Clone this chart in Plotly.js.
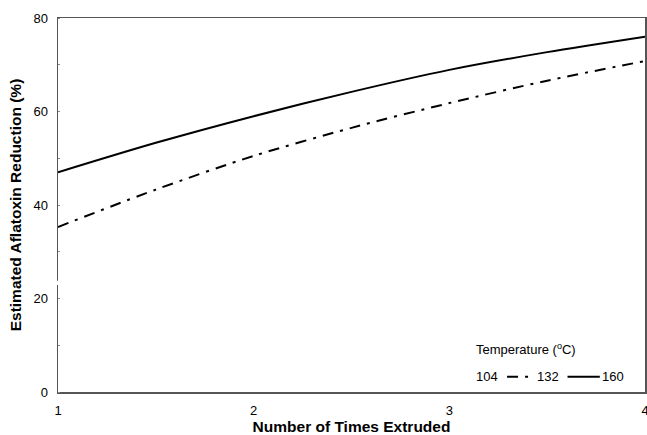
<!DOCTYPE html>
<html>
<head>
<meta charset="utf-8">
<script src="https://cdn.plot.ly/plotly-3.0.1.min.js"></script>
<style>html,body{margin:0;padding:0;background:#fff;}#chart{width:647px;height:435px;}</style>
</head>
<body>
<div id="chart"></div>
<script>
// Data
const timesExtruded = [1, 1.5, 2, 2.5, 3, 3.5, 4];
const reduction132 = [35.3, 43.3, 50.5, 56.5, 61.8, 66.6, 70.8];
const reduction160 = [47.0, 53.3, 59.0, 64.2, 68.9, 72.7, 76.0];
const seriesNames = ["104", "132", "160"];
const xTickVals = [1, 2, 3, 4];
const yTickVals = [0, 20, 40, 60, 80];

const traces = [
  {x: timesExtruded, y: reduction132, mode: 'lines', name: seriesNames[1],
   line: {color: '#000', width: 2, dash: '11px,7px,3px,7px', shape: 'spline', smoothing: 0.8}},
  {x: timesExtruded, y: reduction160, mode: 'lines', name: seriesNames[2],
   line: {color: '#000', width: 2, shape: 'spline', smoothing: 0.8}}
];

const axisFont = {family: 'Liberation Sans, Arial, sans-serif', size: 13, color: '#000'};
const titleFont = {family: 'Liberation Sans, Arial, sans-serif', size: 15.5, color: '#000', weight: 'bold'};

const layout = {
  width: 647, height: 435,
  margin: {l: 58, r: 2, t: 18, b: 43},
  paper_bgcolor: '#fff', plot_bgcolor: '#fff',
  showlegend: false,
  xaxis: {
    range: [1, 4], tickvals: xTickVals, ticktext: xTickVals.map(String),
    showgrid: false, zeroline: false, showline: true, mirror: true,
    linecolor: '#555', linewidth: 1.5, ticks: '', ticklen: 0,
    ticklabelstandoff: 6, ticklabeloverflow: 'allow',
    tickfont: axisFont, title: {text: 'Number of Times Extruded', font: titleFont, standoff: 0}
  },
  yaxis: {
    range: [0, 80], tickvals: yTickVals, ticktext: yTickVals.map(String),
    showgrid: false, zeroline: false, showline: true, mirror: true,
    linecolor: '#555', linewidth: 1.5, ticks: '', ticklen: 0,
    ticklabelstandoff: 6,
    minor: {dtick: 10, ticks: 'inside', ticklen: 2, tickcolor: '#888', tickwidth: 1, showgrid: false},
    tickfont: axisFont, title: {text: 'Estimated Aflatoxin Reduction (%)', font: titleFont, standoff: 8}
  },
  shapes: [
    // small break in the y-axis line seen in the reference
    {type: 'rect', xref: 'paper', yref: 'y', x0: -0.004, x1: 0.004, y0: 22.9, y1: 23.8,
     fillcolor: '#fff', line: {width: 0}},
    // legend line samples
    {type: 'line', xref: 'paper', yref: 'paper', x0: 0.765, x1: 0.806, y0: 0.041, y1: 0.041,
     line: {color: '#000', width: 2, dash: '11px,7px,3px,7px'}},
    {type: 'line', xref: 'paper', yref: 'paper', x0: 0.868, x1: 0.923, y0: 0.041, y1: 0.041,
     line: {color: '#000', width: 2}}
  ],
  annotations: [
    {xref: 'paper', yref: 'paper', x: 0.708, y: 0.115, xanchor: 'left', yanchor: 'middle', showarrow: false,
     text: 'Temperature (<sup>o</sup>C)', font: axisFont},
    {xref: 'paper', yref: 'paper', x: 0.708, y: 0.041, xanchor: 'left', yanchor: 'middle', showarrow: false,
     text: seriesNames[0], font: axisFont},
    {xref: 'paper', yref: 'paper', x: 0.813, y: 0.041, xanchor: 'left', yanchor: 'middle', showarrow: false,
     text: seriesNames[1], font: axisFont},
    {xref: 'paper', yref: 'paper', x: 0.924, y: 0.041, xanchor: 'left', yanchor: 'middle', showarrow: false,
     text: seriesNames[2], font: axisFont}
  ]
};

Plotly.newPlot('chart', traces, layout, {staticPlot: true, displayModeBar: false});
</script>
</body>
</html>
